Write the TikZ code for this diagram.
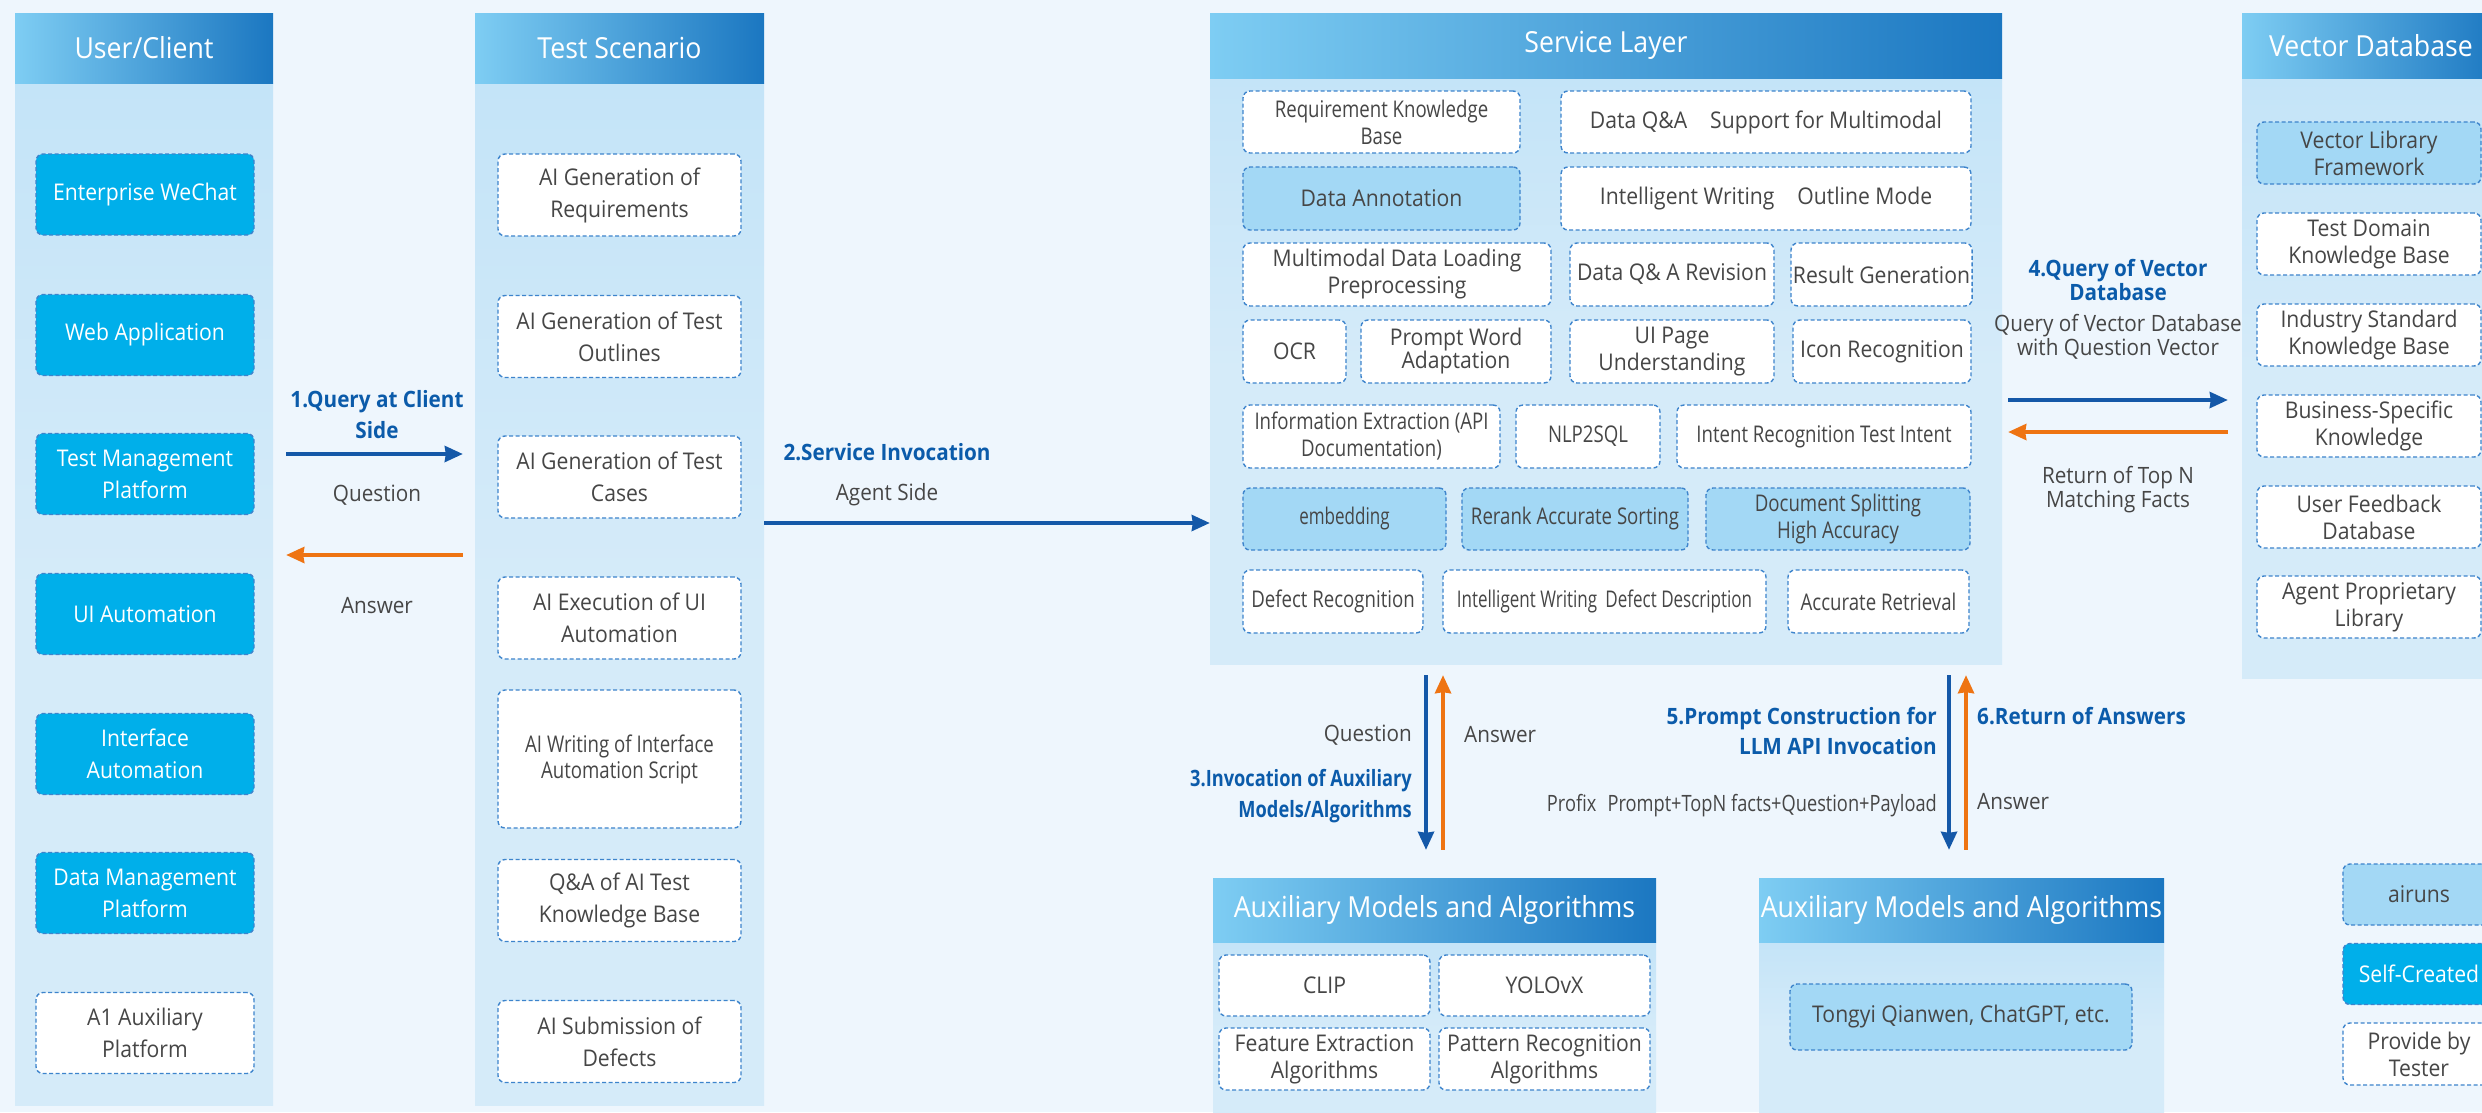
\documentclass[tikz,border=0pt]{standalone}
\usepackage{fontspec}
\setmainfont{Open Sans}[FakeStretch=0.92]
\newfontfamily\narrow{Open Sans}[FakeStretch=0.81]
\newfontfamily\tightfont{Open Sans}[FakeStretch=0.74]
\usepackage{xcolor}
\usepackage{tikz}
\usetikzlibrary{arrows.meta, positioning, calc}

\definecolor{bgblue}{HTML}{EEF6FD}
\definecolor{paneltop}{HTML}{C4E4F8}
\definecolor{panelbody}{HTML}{D5EBF9}
\definecolor{headl}{HTML}{7ECDF3}
\definecolor{headm}{HTML}{36BDEE}
\definecolor{headr}{HTML}{1B77C1}
\definecolor{boxcyan}{HTML}{00AFEA}
\definecolor{boxlight}{HTML}{A3D8F5}
\definecolor{dashblue}{HTML}{3D84CC}
\definecolor{txtgray}{HTML}{464646}
\definecolor{lblblue}{HTML}{0B5BAA}
\definecolor{arrblue}{HTML}{1458A8}
\definecolor{arrorange}{HTML}{EE7413}

\newcommand{\cellfont}{\fontsize{23}{32}\selectfont}
\newcommand{\svcfont}{\fontsize{23}{27}\selectfont}
\newcommand{\hdrfont}{\fontsize{29}{34}\selectfont}
\newcommand{\lblfont}{\fontsize{22.5}{31}\selectfont}
\newcommand{\veclblfont}{\fontsize{22.5}{24}\selectfont}

\tikzstyle{panel} = [rectangle, inner sep=0pt, top color=paneltop, bottom color=panelbody, middle color=panelbody]
\tikzstyle{header} = [rectangle, inner sep=0pt, left color=headl, middle color=headm, right color=headr, text=white, font=\hdrfont]
\tikzstyle{wbox} = [rectangle, rounded corners=7pt, draw=dashblue, line width=1.4pt, dash pattern=on 4pt off 2.5pt, fill=white, text=txtgray, align=center, inner sep=2pt, font=\cellfont]
\tikzstyle{lbox} = [wbox, fill=boxlight]
\tikzstyle{cbox} = [wbox, fill=boxcyan, text=white]
\tikzstyle{usz} = [minimum width=218pt, minimum height=81pt]
\tikzstyle{tsz} = [minimum width=243pt, minimum height=82pt]
\tikzstyle{lbl} = [text=txtgray, font=\lblfont, align=center, inner sep=0pt]
\tikzstyle{steplbl} = [text=lblblue, font=\lblfont\bfseries, align=center, inner sep=0pt]
\tikzstyle{qarrow} = [line width=3.5pt, draw=arrblue, -{Stealth[length=18pt, width=16pt, inset=1pt]}]
\tikzstyle{aarrow} = [line width=3.5pt, draw=arrorange, -{Stealth[length=18pt, width=16pt, inset=1pt]}]

\begin{document}
\begin{tikzpicture}[x=1pt, y=-1pt]
  \useasboundingbox (0,0) rectangle (2482,1112);
  \clip (0,0) rectangle (2482,1112);
  \fill[bgblue] (0,0) rectangle (2482,1112);

  % User/Client column
  \node[panel, minimum width=258pt, minimum height=1022pt] (colUser) at (144,594) {};
  \node[header, minimum width=258pt, minimum height=70pt] (userHead) at (144,48) {User/Client};
  \node[cbox, usz] (wechat) at (145,194.5) {Enterprise WeChat};
  \node[cbox, usz] (webApp) at (145,335) {Web Application};
  \node[cbox, usz] (testMgmt) at (145,474) {Test Management\\Platform};
  \node[cbox, usz] (uiAuto) at (145,614) {UI Automation};
  \node[cbox, usz] (ifAuto) at (145,754) {Interface\\Automation};
  \node[cbox, usz] (dataMgmt) at (145,893) {Data Management\\Platform};
  \node[wbox, usz] (a1Aux) at (145,1033) {A1 Auxiliary\\Platform};

  % Test Scenario column
  \node[panel, minimum width=289pt, minimum height=1022pt] (colTest) at (619.5,594) {};
  \node[header, minimum width=289pt, minimum height=70pt] (testHead) at (619.5,48) {Test Scenario};
  \node[wbox, tsz] (reqGen) at (619.5,195) {AI Generation of\\Requirements};
  \node[wbox, tsz] (outGen) at (619.5,336.5) {AI Generation of Test\\Outlines};
  \node[wbox, tsz] (caseGen) at (619.5,477) {AI Generation of Test\\Cases};
  \node[wbox, tsz] (uiExec) at (619.5,618) {AI Execution of UI\\Automation};
  \node[wbox, tsz, minimum height=138pt, font=\fontsize{23}{26}\selectfont\narrow] (ifScript) at (619.5,759) {AI Writing of Interface\\Automation Script};
  \node[wbox, tsz] (qaKB) at (619.5,900.5) {Q\&A of AI Test\\Knowledge Base};
  \node[wbox, tsz] (defSub) at (619.5,1041.5) {AI Submission of\\Defects};

  % Service Layer
  \node[panel, minimum width=792pt, minimum height=586pt] (svc) at (1606,371) {};
  \node[header, minimum width=792pt, minimum height=65pt] (svcHead) at (1606,45.5) {Service Layer};
  \node[wbox, font=\svcfont\narrow, minimum width=277pt, minimum height=62pt] (reqKB) at (1381.5,122) {Requirement Knowledge\\Base};
  \node[wbox, font=\svcfont, minimum width=410pt, minimum height=62pt] (dataQA) at (1766,122) {Data Q\&A\quad Support for Multimodal};
  \node[lbox, font=\svcfont, minimum width=277pt, minimum height=63pt] (annot) at (1381.5,198.5) {Data Annotation};
  \node[wbox, font=\svcfont, minimum width=410pt, minimum height=63pt] (writeOutline) at (1766,198.5) {Intelligent Writing\quad Outline Mode};
  \node[wbox, font=\svcfont, minimum width=308pt, minimum height=63pt] (mmLoad) at (1397,274.5) {Multimodal Data Loading\\Preprocessing};
  \node[wbox, font=\svcfont, minimum width=204pt, minimum height=63pt] (qaRev) at (1672,274.5) {Data Q\& A Revision};
  \node[wbox, font=\svcfont, minimum width=179pt, minimum height=63pt] (resGen) at (1881.5,274.5) {Result Generation};
  \node[wbox, font=\svcfont, minimum width=103pt, minimum height=63pt] (ocr) at (1294.5,351.5) {OCR};
  \node[wbox, font=\svcfont, minimum width=190pt, minimum height=63pt] (promptAd) at (1456,351.5) {Prompt Word\\[-4pt]Adaptation};
  \node[wbox, font=\svcfont, minimum width=204pt, minimum height=63pt] (uiPage) at (1672,351.5) {UI Page\\Understanding};
  \node[wbox, font=\svcfont, minimum width=178pt, minimum height=63pt] (iconRec) at (1882,351.5) {Icon Recognition};
  \node[wbox, font=\svcfont\narrow, minimum width=257pt, minimum height=63pt] (infoExt) at (1371.5,436.5) {Information Extraction (API\\Documentation)};
  \node[wbox, font=\svcfont\narrow, minimum width=144pt, minimum height=63pt] (nlpSql) at (1588,436.5) {NLP2SQL};
  \node[wbox, font=\svcfont\narrow, minimum width=294pt, minimum height=63pt] (intentRec) at (1824,436.5) {Intent Recognition Test Intent};
  \node[lbox, font=\svcfont\tightfont, minimum width=203pt, minimum height=62pt] (embed) at (1344.5,519) {embedding};
  \node[lbox, font=\svcfont\narrow, minimum width=226pt, minimum height=62pt] (rerank) at (1575,519) {Rerank Accurate Sorting};
  \node[lbox, font=\svcfont\narrow, minimum width=264pt, minimum height=62pt] (docSplit) at (1838,519) {Document Splitting\\High Accuracy};
  \node[wbox, font=\svcfont\narrow, minimum width=180pt, minimum height=63pt] (defRec) at (1333,601.5) {Defect Recognition};
  \node[wbox, font=\svcfont\tightfont, minimum width=323pt, minimum height=63pt] (writeDef) at (1604.5,601.5) {Intelligent Writing\,\ Defect Description};
  \node[wbox, font=\svcfont\narrow, minimum width=181pt, minimum height=63pt] (accRet) at (1878.5,601.5) {Accurate Retrieval};

  % Vector Database
  \node[panel, minimum width=258pt, minimum height=600pt] (vec) at (2371,378) {};
  \node[header, minimum width=258pt, minimum height=65pt] (vecHead) at (2371,45.5) {Vector Database};
  \node[lbox, font=\svcfont, minimum width=224pt, minimum height=62pt] (vecLib) at (2369,153) {Vector Library\\Framework};
  \node[wbox, font=\svcfont, minimum width=224pt, minimum height=62pt] (testDom) at (2369,244) {Test Domain\\Knowledge Base};
  \node[wbox, font=\svcfont, minimum width=224pt, minimum height=62pt] (industry) at (2369,335) {Industry Standard\\Knowledge Base};
  \node[wbox, font=\svcfont, minimum width=224pt, minimum height=62pt] (business) at (2369,426) {Business-Specific\\Knowledge};
  \node[wbox, font=\svcfont, minimum width=224pt, minimum height=62pt] (feedback) at (2369,517) {User Feedback\\Database};
  \node[wbox, font=\svcfont, minimum width=224pt, minimum height=62pt] (agentLib) at (2369,607) {Agent Proprietary\\Library};

  % Auxiliary models (left)
  \node[panel, minimum width=443pt, minimum height=180pt] (aux) at (1434.5,1032) {};
  \node[header, minimum width=443pt, minimum height=64pt] (auxHead) at (1434.5,910) {Auxiliary Models and Algorithms};
  \node[wbox, minimum width=211pt, minimum height=61pt] (clip) at (1324.5,985.5) {CLIP};
  \node[wbox, minimum width=211pt, minimum height=61pt] (yolo) at (1544.5,985.5) {YOLOvX};
  \node[wbox, font=\svcfont, minimum width=211pt, minimum height=62pt] (featExt) at (1324.5,1059) {Feature Extraction\\Algorithms};
  \node[wbox, font=\svcfont, minimum width=211pt, minimum height=62pt] (patRec) at (1544.5,1059) {Pattern Recognition\\Algorithms};

  % Auxiliary models (right)
  \node[panel, minimum width=405pt, minimum height=180pt] (llm) at (1961.5,1032) {};
  \node[header, minimum width=405pt, minimum height=64pt] (llmHead) at (1961.5,910) {Auxiliary Models and Algorithms};
  \node[lbox, minimum width=342pt, minimum height=66pt] (tongyi) at (1961,1017) {Tongyi Qianwen, ChatGPT, etc.};

  % legend
  \node[lbox, minimum width=152pt, minimum height=61pt] (airuns) at (2419,894.5) {airuns};
  \node[cbox, minimum width=152pt, minimum height=61pt] (selfMade) at (2419,974) {Self-Created};
  \node[wbox, font=\svcfont, minimum width=152pt, minimum height=62pt] (tester) at (2419,1054) {Provide by\\Tester};

  % 1. client query
  \draw[qarrow, shorten <=13pt, shorten >=12pt] (colUser.east |- 0,454) -- (colTest.west |- 0,454);
  \draw[aarrow, shorten <=12pt, shorten >=13pt] (colTest.west |- 0,555) -- (colUser.east |- 0,555);
  \node[steplbl] (q1) at (377,415) {1.Query at Client\\Side};
  \node[lbl] (q1q) at (377,495) {Question};
  \node[lbl] (q1a) at (377,606) {Answer};

  % 2. service invocation
  \draw[qarrow] (colTest.east |- 0,523) -- (svc.west |- 0,523);
  \node[steplbl] (s2) at (887,452) {2.Service Invocation};
  \node[lbl] (s2a) at (887,495) {Agent Side};

  % 3. auxiliary models
  \draw[qarrow, shorten <=11pt, shorten >=28pt] (svc.south -| 1426,0) -- (auxHead.north -| 1426,0);
  \draw[aarrow, shorten <=28pt, shorten >=11pt] (auxHead.north -| 1443,0) -- (svc.south -| 1443,0);
  \node[lbl, anchor=east] (s3q) at (1412,735) {Question};
  \node[lbl, anchor=west] (s3a) at (1464,735) {Answer};
  \node[steplbl, align=right, anchor=east, font=\lblfont\narrow\bfseries] (s3) at (1412,796) {3.Invocation of Auxiliary\\Models/Algorithms};

  % 4. vector database
  \draw[qarrow, shorten <=6pt, shorten >=14pt] (svc.east |- 0,400) -- (vec.west |- 0,400);
  \draw[aarrow, shorten <=14pt, shorten >=6pt] (vec.west |- 0,432) -- (svc.east |- 0,432);
  \node[steplbl, font=\veclblfont\bfseries] (s4) at (2118,280) {4.Query of Vector\\Database};
  \node[lbl, font=\veclblfont] (s4q) at (2118,337) {Query of Vector Database\\with Question Vector};
  \node[lbl, font=\veclblfont] (s4a) at (2118,490) {Return of Top N\\Matching Facts};

  % 5./6. LLM
  \draw[qarrow, shorten <=11pt, shorten >=28pt] (svc.south -| 1949,0) -- (llmHead.north -| 1949,0);
  \draw[aarrow, shorten <=28pt, shorten >=11pt] (llmHead.north -| 1966,0) -- (svc.south -| 1966,0);
  \node[steplbl, align=right, anchor=east, font=\fontsize{22.5}{30}\selectfont\bfseries] (s5) at (1937,731) {5.Prompt Construction for\\LLM API Invocation};
  \node[lbl, anchor=east, font=\lblfont\narrow] (s5p) at (1937,806) {Profix\enspace Prompt+TopN facts+Question+Payload};
  \node[steplbl, anchor=west] (s6) at (1977,716) {6.Return of Answers};
  \node[lbl, anchor=west] (s6a) at (1977,802) {Answer};
\end{tikzpicture}
\end{document}
